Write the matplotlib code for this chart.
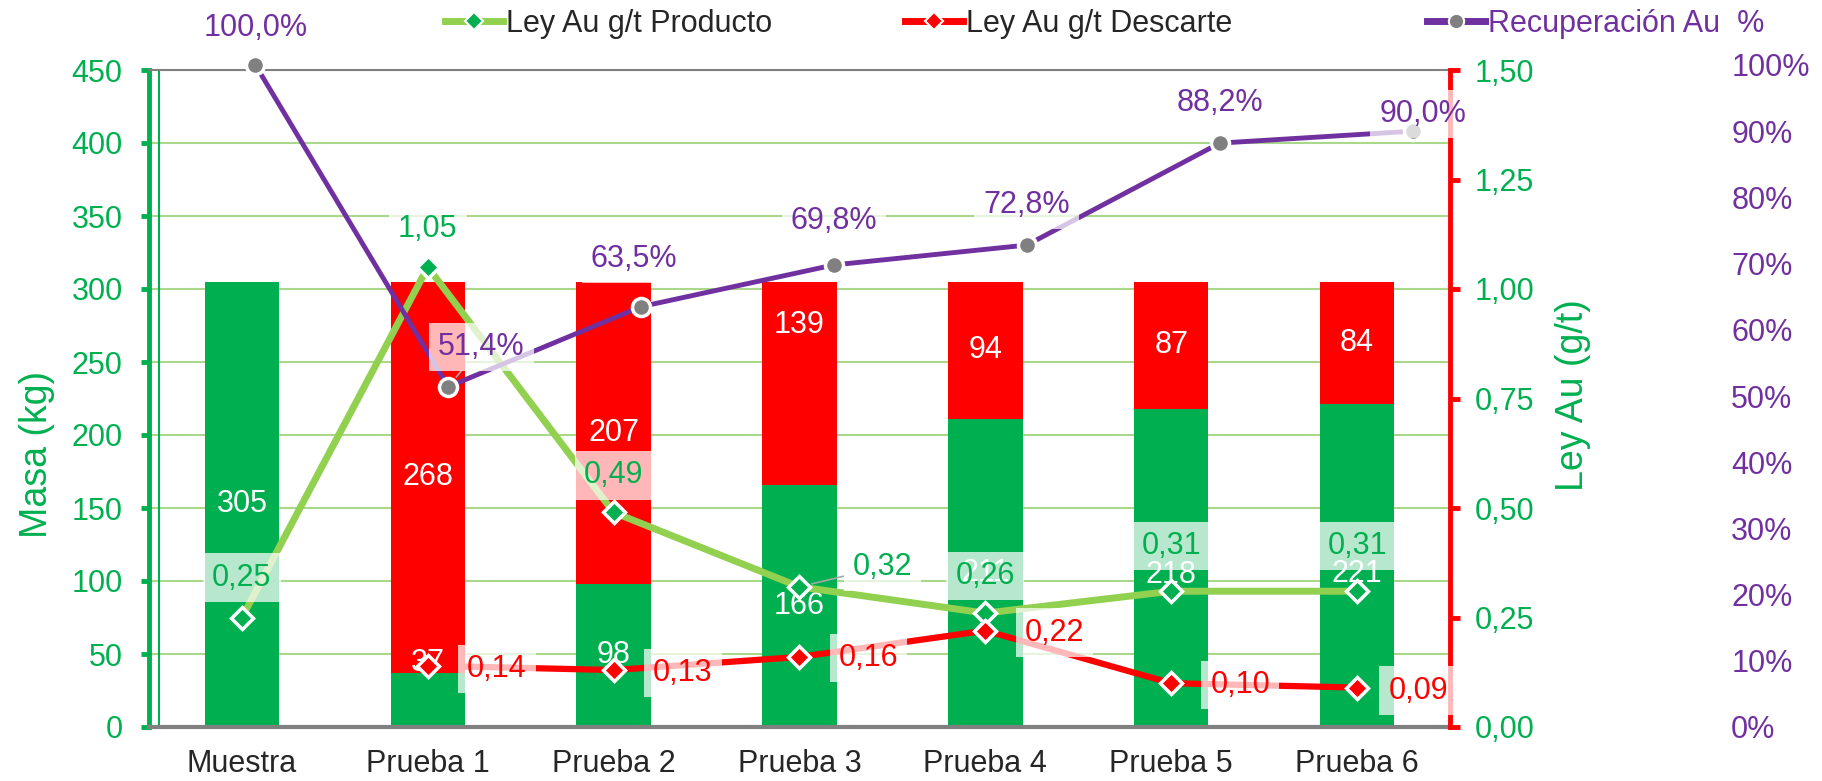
import numpy as np
import matplotlib.pyplot as plt
from matplotlib.lines import Line2D

plt.rcParams['font.family'] = ['Liberation Sans', 'DejaVu Sans']

# datos
categorias = ['Muestra', 'Prueba 1', 'Prueba 2', 'Prueba 3', 'Prueba 4', 'Prueba 5', 'Prueba 6']
masa_producto = [305, 37, 98, 166, 211, 218, 221]
masa_descarte = [0, 268, 207, 139, 94, 87, 84]
ley_producto = [0.25, 1.05, 0.49, 0.32, 0.26, 0.31, 0.31]
ley_descarte = [np.nan, 0.14, 0.13, 0.16, 0.22, 0.10, 0.09]
recuperacion = [100.0, 51.4, 63.5, 69.8, 72.8, 88.2, 90.0]

verde = '#00B050'
verde_claro = '#92D050'
rojo = '#FF0000'
morado = '#7030A0'
gris = '#808080'
fs = 22

x = np.arange(len(categorias))

W, H = 1822, 781
fig = plt.figure(figsize=(W / 100, H / 100), dpi=100)
ax1 = fig.add_axes([149 / W, 54 / H, 1301 / W, 657 / H])
ax2 = ax1.twinx()
ax3 = fig.add_axes([159 / W, 54 / H, 1350 / W, 662 / H], facecolor='none')

# barras
ax1.bar(x, masa_producto, width=0.4, color=verde, zorder=2)
ax1.bar(x, masa_descarte, width=0.4, bottom=masa_producto, color=rojo, zorder=2)
ax1.set_xlim(-0.5, 6.5)
ax1.set_ylim(0, 450)
ax1.set_yticks(np.arange(0, 451, 50))
ax1.set_axisbelow(True)
ax1.grid(axis='y', color='#A9D88B', lw=1.5)
ax1.set_xticks(x, categorias)
ax1.tick_params(axis='x', length=0, pad=16, labelsize=fs, labelcolor='#262626')
ax1.tick_params(axis='y', colors=verde, labelsize=fs, length=6, width=3.5, pad=13)
ax1.spines['left'].set_color(verde)
ax1.spines['left'].set_linewidth(3.5)
ax1.spines['top'].set_color(gris)
ax1.spines['top'].set_linewidth(1.5)
ax1.spines['bottom'].set_color(gris)
ax1.spines['bottom'].set_linewidth(3)
ax1.spines['right'].set_visible(False)
ax1.set_ylabel('Masa (kg)', color=verde, fontsize=27)
ax1.yaxis.set_label_coords(-0.072, 0.415)

# etiquetas de masa (desplazamiento en kg respecto al centro)
desp_prod = [0, 25, 0, 0, 0, -5, -6]
desp_desc = [0, 0, 0, 40, 0, 0, 0]
for i in range(len(x)):
    ax1.text(x[i], masa_producto[i] / 2 + desp_prod[i], str(masa_producto[i]),
             ha='center', va='center', color='white', fontsize=fs, zorder=3)
    if masa_descarte[i] > 0:
        ax1.text(x[i], masa_producto[i] + masa_descarte[i] / 2 + desp_desc[i], str(masa_descarte[i]),
                 ha='center', va='center', color='white', fontsize=fs, zorder=3)

# leyes
ax2.plot(x, ley_producto, color=verde_claro, lw=5, marker='D', ms=11,
         mfc=verde, mec='white', mew=2.5, zorder=3)
ax2.plot(x, ley_descarte, color=rojo, lw=4.5, marker='D', ms=11,
         mfc=rojo, mec='white', mew=2.5, zorder=3)
ax2.set_ylim(0, 1.5)
ax2.set_yticks(np.arange(0, 1.51, 0.25))
ax2.set_yticklabels([f'{v:.2f}'.replace('.', ',') for v in np.arange(0, 1.51, 0.25)])
ax2.tick_params(axis='y', direction='out', color=rojo, labelcolor=verde, labelsize=fs,
                length=7, width=3.5, pad=11)
for s in ['left', 'top', 'bottom']:
    ax2.spines[s].set_visible(False)
ax2.spines['right'].set_color(rojo)
ax2.spines['right'].set_linewidth(3.5)
ax2.set_ylabel('Ley Au (g/t)', color=verde, fontsize=27)
ax2.yaxis.set_label_coords(1.081, 0.505)

caja = dict(boxstyle='square,pad=0.3', fc='white', ec='none', alpha=0.72)

off_prod = [(0, 40), (0, 38), (0, 37), (83, 20), (0, 37), (0, 45), (0, 45)]
for i, v in enumerate(ley_producto):
    ap = None
    if i == 3:
        ap = dict(arrowstyle='-', color='#A6A6A6', lw=1.2, shrinkA=0, shrinkB=9)
    ax2.annotate(f'{v:.2f}'.replace('.', ','), (x[i], v), xytext=off_prod[i],
                 textcoords='offset pixels', ha='center', va='center',
                 color=verde, fontsize=fs, bbox=caja, arrowprops=ap, zorder=5)

off_desc = [(0, 0), (69, -3), (69, -3), (69, -1), (69, -2), (69, -2), (61, -3)]
for i, v in enumerate(ley_descarte):
    if np.isnan(v):
        continue
    ax2.annotate(f'{v:.2f}'.replace('.', ','), (x[i], v), xytext=off_desc[i],
                 textcoords='offset pixels', ha='center', va='center',
                 color=rojo, fontsize=fs, bbox=caja, zorder=5)

# recuperacion
ax3.plot(x, recuperacion, color=morado, lw=3.5, marker='o', ms=13,
         mfc=gris, mec='white', mew=2.5, zorder=3, clip_on=False)
ax3.set_xlim(-0.5, 6.5)
ax3.set_ylim(0, 100)
ax3.set_yticks(np.arange(0, 101, 10))
ax3.set_yticklabels([f'{v}%' for v in range(0, 101, 10)])
ax3.yaxis.tick_right()
ax3.tick_params(axis='y', length=0, labelsize=fs, labelcolor=morado, pad=160)
ax3.set_xticks([])
for s in ['right', 'top', 'bottom', 'left']:
    ax3.spines[s].set_visible(False)
# linea verde fina del eje secundario
ax1.axvline(-0.5 + 10 / 185.9, color=verde, lw=1.5, zorder=1)

off_rec = [(0, 37), (33, 40), (-7, 48), (0, 44), (0, 40), (0, 40), (10, 17)]
for i, v in enumerate(recuperacion):
    ap = None
    if i == 1:
        ap = dict(arrowstyle='-', color='#A6A6A6', lw=1.2, shrinkA=0, shrinkB=9)
    ax3.annotate(f'{v:.1f}%'.replace('.', ','), (x[i], v), xytext=off_rec[i],
                 textcoords='offset pixels', ha='center', va='center',
                 color=morado, fontsize=fs, bbox=caja, arrowprops=ap, zorder=5,
                 annotation_clip=False)

# leyenda
h1 = Line2D([], [], color=verde_claro, lw=5, marker='D', ms=9, mfc=verde, mec='white', mew=1.5)
h2 = Line2D([], [], color=rojo, lw=5, marker='D', ms=9, mfc=rojo, mec='white', mew=1.5)
h3 = Line2D([], [], color=morado, lw=5, marker='o', ms=11, mfc=gris, mec='white', mew=1.5)
nombres = ['Ley Au g/t Producto', 'Ley Au g/t Descarte', 'Recuperación Au  %']
for h, nom, xl, col in zip([h1, h2, h3], nombres, [445, 905, 1427], ['#262626', '#262626', morado]):
    leg = fig.legend(handles=[h], labels=[nom], loc='center left',
                     bbox_to_anchor=(xl / W, 1 - 24 / H), frameon=False, fontsize=fs,
                     handlelength=1.9, handletextpad=0.1, borderpad=0, borderaxespad=0)
    for t in leg.get_texts():
        t.set_color(col)

fig.savefig('out.png', dpi=100)
